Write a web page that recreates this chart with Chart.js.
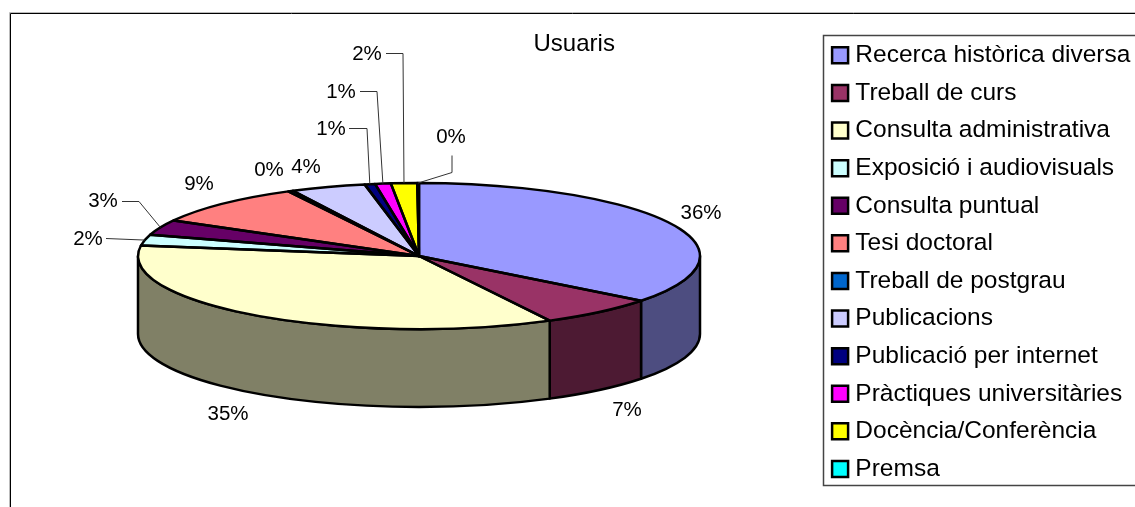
<!DOCTYPE html>
<html>
<head>
<meta charset="utf-8">
<title>Usuaris</title>
<script src="https://cdn.jsdelivr.net/npm/chart.js@4"></script>
<style>
  html, body { margin: 0; padding: 0; background: #fff; }
  canvas { display: block; }
</style>
</head>
<body>
<canvas id="chart" width="1135" height="507"></canvas>
<script>
"use strict";

const categories = [
  'Recerca històrica diversa', 'Treball de curs', 'Consulta administrativa',
  'Exposició i audiovisuals', 'Consulta puntual', 'Tesi doctoral',
  'Treball de postgrau', 'Publicacions', 'Publicació per internet',
  'Pràctiques universitàries', 'Docència/Conferència', 'Premsa',
];
const shares = [35.5, 6.8, 35.0, 2.4, 3.4, 9.2, 0.3, 4.3, 0.6, 0.9, 1.5, 0.1];
const colors = [
  '#9999FF', '#993366', '#FFFFCC', '#CCFFFF', '#660066', '#FF8080',
  '#0066CC', '#CCCCFF', '#000080', '#FF00FF', '#FFFF00', '#00FFFF',
];
const wallColors = [
  '#4D4D80', '#4D1A33', '#808066', '#668080', '#330033', '#804040',
  '#003366', '#666680', '#000040', '#800080', '#808000', '#008080',
];

const FONT = '"Liberation Sans", Arial, sans-serif';
const PEN = 2.5;

// where the pie sits on the page, the arcs are squashed onto this ellipse
const pie = { cx: 419, cy: 256, rx: 281, ry: 73, depth: 78 };

// label centre and leader elbows, the last leader point comes from the slice
const labelSpots = [
  { x: 701, y: 213 },
  { x: 627, y: 410 },
  { x: 228, y: 414 },
  { x: 88, y: 239, leader: [[106, 238]] },
  { x: 103, y: 201, leader: [[122, 201], [139, 201]] },
  { x: 199, y: 184 },
  { x: 269, y: 170 },
  { x: 306, y: 167 },
  { x: 331, y: 129, leader: [[349, 128], [367, 128]] },
  { x: 341, y: 92, leader: [[360, 91], [377, 91]] },
  { x: 367, y: 54, leader: [[386, 53], [403, 53]] },
  { x: 451, y: 137, leader: [[452, 155], [452, 172]] },
];

function rimPoint( angle ) {
  return [ pie.cx + pie.rx * Math.cos( angle ), pie.cy + pie.ry * Math.sin( angle ) ];
}

function polyline( ctx, color, points ) {
  ctx.strokeStyle = color;
  ctx.beginPath();
  points.forEach( ( p, n ) => {
    if ( n === 0 ) ctx.moveTo( p[0], p[1] );
    else ctx.lineTo( p[0], p[1] );
  } );
  ctx.stroke();
}

const pie3d = {
  id: 'pie3d',

  // chart frame and legend frame
  beforeDraw( chart ) {
    const ctx = chart.ctx;
    ctx.save();
    ctx.lineWidth = 1;
    polyline( ctx, '#bbb', [ [9.5, 507], [9.5, 12.5], [1135, 12.5] ] );
    polyline( ctx, '#000', [ [10.5, 507], [10.5, 13.5], [1135, 13.5] ] );
    ctx.lineWidth = 1.5;
    polyline( ctx, '#444', [ [1135, 35.5], [823.5, 35.5], [823.5, 485.5], [1135, 485.5] ] );
    ctx.restore();
  },

  // side walls first, then squash the arcs chart.js is about to draw
  beforeDatasetsDraw( chart ) {
    const ctx = chart.ctx;
    const arcs = chart.getDatasetMeta( 0 ).data;
    ctx.save();
    ctx.lineWidth = PEN;
    ctx.strokeStyle = '#000';
    ctx.lineJoin = 'round';
    arcs.forEach( ( arc, i ) => {
      const from = Math.max( arc.startAngle, 0 );
      const to = Math.min( arc.endAngle, Math.PI );
      if ( to <= from ) return;
      ctx.beginPath();
      ctx.ellipse( pie.cx, pie.cy, pie.rx, pie.ry, 0, from, to );
      ctx.ellipse( pie.cx, pie.cy + pie.depth, pie.rx, pie.ry, 0, to, from, true );
      ctx.closePath();
      ctx.fillStyle = wallColors[i];
      ctx.fill();
      ctx.stroke();
    } );
    ctx.restore();

    const k = pie.ry / arcs[0].outerRadius;
    ctx.save();
    ctx.translate( pie.cx - arcs[0].x, pie.cy );
    ctx.scale( 1, k );
    ctx.translate( 0, -arcs[0].y );
  },

  // outlines are stroked after the restore so the pen stays round
  afterDatasetsDraw( chart ) {
    const ctx = chart.ctx;
    const arcs = chart.getDatasetMeta( 0 ).data;
    ctx.restore();

    ctx.save();
    ctx.lineWidth = PEN;
    ctx.strokeStyle = '#000';
    ctx.lineJoin = 'round';
    arcs.forEach( ( arc ) => {
      ctx.beginPath();
      ctx.moveTo( pie.cx, pie.cy );
      ctx.ellipse( pie.cx, pie.cy, pie.rx, pie.ry, 0, arc.startAngle, arc.endAngle );
      ctx.closePath();
      ctx.stroke();
    } );

    ctx.lineWidth = 1;
    ctx.fillStyle = '#000';
    ctx.font = '20.5px ' + FONT;
    ctx.textAlign = 'center';
    ctx.textBaseline = 'middle';
    const total = shares.reduce( ( a, b ) => a + b, 0 );
    arcs.forEach( ( arc, i ) => {
      const spot = labelSpots[i];
      if ( spot.leader ) {
        const end = rimPoint( ( arc.startAngle + arc.endAngle ) / 2 );
        const points = spot.leader.map( ( p ) => [ p[0], p[1] + 0.5 ] );
        polyline( ctx, '#333', points.concat( [ end ] ) );
      }
      ctx.fillText( ( shares[i] / total * 100 ).toFixed( 0 ) + '%', spot.x, spot.y );
    } );
    ctx.restore();
  },
};

new Chart( document.getElementById( 'chart' ), {
  type: 'pie',
  data: {
    labels: categories,
    datasets: [ {
      data: shares,
      backgroundColor: colors,
      borderWidth: 0,
      radius: pie.rx,
    } ],
  },
  options: {
    responsive: false,
    animation: false,
    layout: { padding: { left: 8, right: -5.4, top: 30, bottom: 4 } },
    plugins: {
      tooltip: { enabled: false },
      title: {
        display: true,
        text: 'Usuaris',
        color: '#000',
        font: { family: FONT, size: 24, weight: 'normal' },
        padding: 0,
      },
      legend: {
        display: true,
        position: 'right',
        align: 'start',
        labels: {
          color: '#000',
          font: { family: FONT, size: 24.5 },
          usePointStyle: true,
          boxWidth: 6,
          boxHeight: 16,
          padding: 13.1,
          generateLabels: () => categories.map( ( text, i ) => ( {
            text,
            fillStyle: colors[i],
            strokeStyle: '#000',
            lineWidth: PEN,
            pointStyle: 'rect',
            index: i,
          } ) ),
        },
      },
    },
  },
  plugins: [ pie3d ],
} );
</script>
</body>
</html>
